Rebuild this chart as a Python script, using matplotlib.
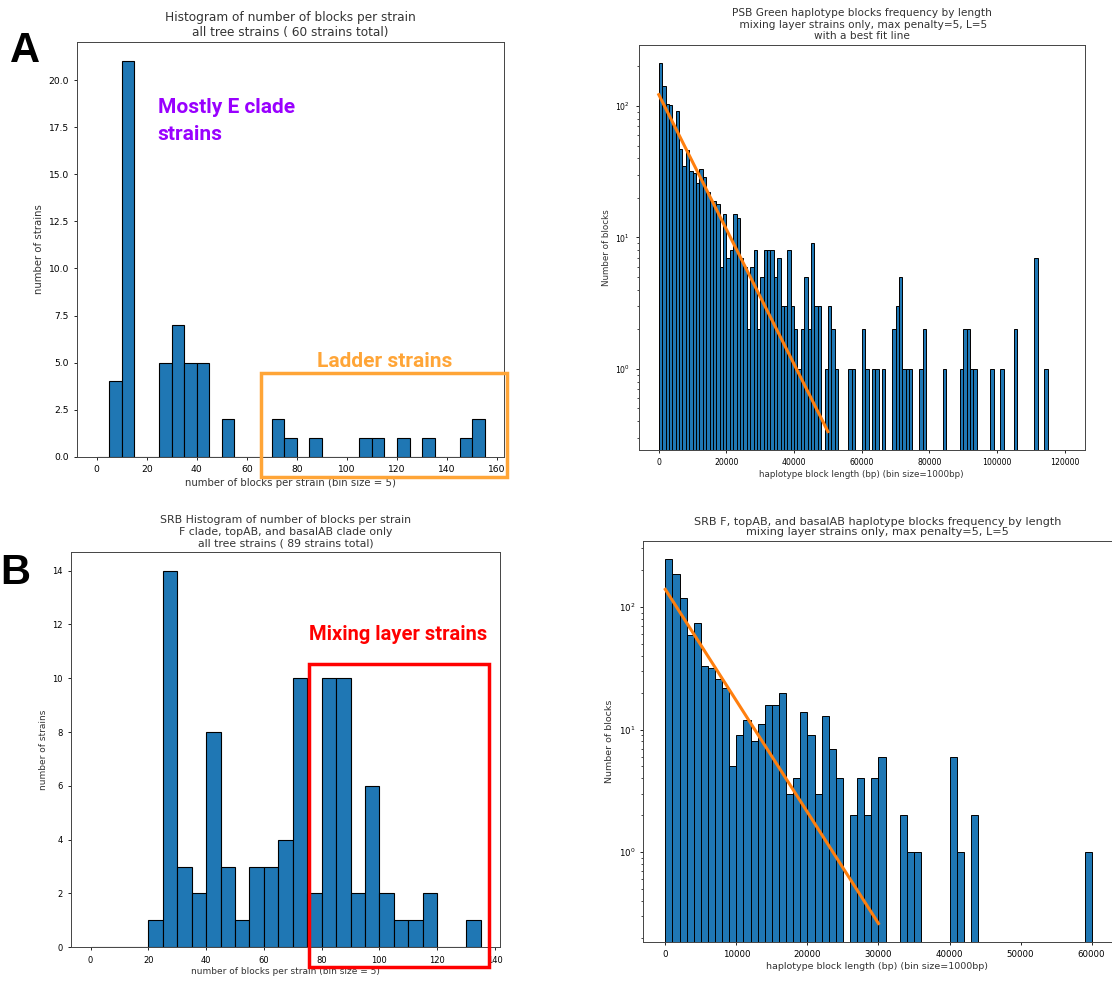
import numpy as np
from matplotlib import pyplot as plt
import matplotlib.patches as patches

# ---- data ----
# panel A: number of blocks per strain, bins of 5 starting at 0
a_edges = list(range(0, 160, 5))
a_counts = [0, 4, 21, 0, 0, 5, 7, 5, 5, 0, 2, 0, 0, 0, 2, 1,
            0, 1, 0, 0, 0, 1, 1, 0, 1, 0, 1, 0, 0, 1, 2]

# panel B: SRB blocks per strain, bins of 5 starting at 0
b_edges = list(range(0, 140, 5))
b_counts = [0, 0, 0, 0, 1, 14, 3, 2, 8, 3, 1, 3, 3, 4, 10, 2,
            10, 10, 2, 6, 2, 1, 1, 2, 0, 0, 1]

# panel C: PSB Green block lengths, bins of 1000 bp
c_edges = list(range(0, 121000, 1000))
c_counts = [211, 142, 103, 101, 70, 91, 47, 35, 46, 32,
            31, 26, 33, 29, 22, 19, 19, 18, 6, 15,
            7, 8, 15, 14, 7, 6, 2, 6, 8, 2,
            5, 8, 8, 8, 5, 7, 3, 3, 8, 3,
            2, 1, 2, 5, 2, 9, 3, 3, 0, 1,
            3, 2, 1, 0, 0, 0, 1, 1, 0, 0,
            2, 1, 0, 1, 1, 0, 1, 0, 0, 2,
            3, 5, 1, 1, 1, 0, 0, 1, 2, 0,
            0, 0, 0, 0, 1, 0, 0, 0, 0, 1,
            2, 2, 1, 1, 0, 0, 0, 0, 1, 0,
            0, 1, 0, 0, 0, 2, 0, 0, 0, 0,
            0, 7, 0, 0, 1, 0, 0, 0, 0, 0]
c_fit_x = [0, 50000]
c_fit_y = [122, 0.333]

# panel D: SRB F/topAB/basalAB block lengths, bins of 1000 bp
d_edges = list(range(0, 63000, 1000))
d_counts = [245, 187, 118, 59, 74, 33, 32, 26, 22, 5,
            9, 12, 8, 11, 16, 16, 20, 3, 4, 14,
            9, 3, 13, 7, 4, 0, 2, 4, 2, 4,
            6, 0, 0, 2, 1, 1, 0, 0, 0, 0,
            6, 1, 0, 2, 0, 0, 0, 0, 0, 0,
            0, 0, 0, 0, 0, 0, 0, 0, 0, 1,
            0, 0]
d_fit_x = [0, 30000]
d_fit_y = [139, 0.262]

W, H = 1112, 982
fig = plt.figure(figsize=(W / 100, H / 100), dpi=100)


def px_axes(x0, y0, x1, y1):
    # axes box given in pixels, origin top-left
    return fig.add_axes([x0 / W, 1 - y1 / H, (x1 - x0) / W, (y1 - y0) / H])


def px(x, y):
    return x / W, 1 - y / H


def hist_panel(ax, edges, counts, fs, tfs):
    edges = np.array(edges)
    width = edges[1] - edges[0]
    ax.bar(edges[:-1], counts, width=width, align='edge',
           color='#1f77b4', edgecolor='black', linewidth=0.8)
    span = edges[-1] - edges[0]
    ax.set_xlim(edges[0] - 0.05 * span, edges[-1] + 0.05 * span)
    ax.set_ylim(0, max(counts) * 1.05)
    ax.tick_params(labelsize=tfs, length=2.5, width=0.6)
    for s in ax.spines.values():
        s.set_linewidth(0.7)
        s.set_color('#444444')


def log_panel(ax, edges, counts, fit_x, fit_y, xlim, fs, tfs):
    edges = np.array(edges)
    counts = np.array(counts)
    left = edges[:len(counts)]
    keep = counts > 0
    ax.set_yscale('log')
    ax.bar(left[keep], counts[keep], width=edges[1] - edges[0], align='edge',
           color='#1f77b4', edgecolor='black', linewidth=0.7)
    ax.plot(fit_x, fit_y, color='#ff7f0e', lw=2.2)
    lo, hi = np.log10(min(fit_y)), np.log10(counts.max())
    m = 0.05 * (hi - lo)
    ax.set_ylim(10 ** (lo - m), 10 ** (hi + m))
    ax.set_xlim(*xlim)
    ax.tick_params(labelsize=tfs, length=2.5, width=0.6)
    ax.tick_params(which='minor', length=1.5, width=0.5)
    for s in ax.spines.values():
        s.set_linewidth(0.7)
        s.set_color('#444444')


# ---- A ----
axA = px_axes(77.3, 41.7, 504, 456.7)
hist_panel(axA, a_edges, a_counts, 7.3, 6.6)
axA.set_title('Histogram of number of blocks per strain\nall tree strains ( 60 strains total)',
              fontsize=8.7, pad=4, color='#333333')
axA.set_xlabel('number of blocks per strain (bin size = 5)', fontsize=7.3, labelpad=3, color='#333333')
axA.set_ylabel('number of strains', fontsize=7.3, labelpad=3, color='#333333')

# ---- B ----
axB = px_axes(71, 551.7, 500, 947.3)
hist_panel(axB, b_edges, b_counts, 6.5, 6.0)
axB.set_title('SRB Histogram of number of blocks per strain\nF clade, topAB, and basalAB clade only\n'
              'all tree strains ( 89 strains total)', fontsize=7.8, pad=4, color='#333333')
axB.set_xlabel('number of blocks per strain (bin size = 5)', fontsize=6.5, labelpad=2, color='#333333')
axB.set_ylabel('number of strains', fontsize=6.5, labelpad=3, color='#333333')

# ---- C ----
axC = px_axes(638.5, 45, 1085, 450)
log_panel(axC, c_edges, c_counts, c_fit_x, c_fit_y, (-6000, 126000), 6.3, 5.6)
axC.set_title('PSB Green haplotype blocks frequency by length\n mixing layer strains only, max penalty=5, L=5\n'
              'with a best fit line', fontsize=7.6, pad=4, color='#333333')
axC.set_xlabel('haplotype block length (bp) (bin size=1000bp)', fontsize=6.3, labelpad=2, color='#333333')
axC.set_ylabel('Number of blocks', fontsize=6.3, labelpad=3, color='#333333')

# ---- D ----
axD = px_axes(643.3, 541, 1111.5, 941.7)
log_panel(axD, d_edges, d_counts, d_fit_x, d_fit_y, (-3100, 62800), 6.8, 6.2)
axD.set_title('SRB F, topAB, and basalAB haplotype blocks frequency by length\n'
              'mixing layer strains only, max penalty=5, L=5', fontsize=8.1, pad=4,
              linespacing=1.05, color='#333333')
axD.set_xlabel('haplotype block length (bp) (bin size=1000bp)', fontsize=6.8, labelpad=2, color='#333333')
axD.set_ylabel('Number of blocks', fontsize=6.8, labelpad=3, color='#333333')

# ---- annotations ----
bold = dict(family='Roboto', fontweight='bold')
fig.text(*px(157.7, 113), 'Mostly E clade', color='#9900ff', fontsize=15, va='baseline', **bold)
fig.text(*px(157.7, 140), 'strains', color='#9900ff', fontsize=15, va='baseline', **bold)
fig.text(*px(317, 367), 'Ladder strains', color='#ffa537', fontsize=15, va='baseline', **bold)
fig.text(*px(309, 640), 'Mixing layer strains', color='#ff0000', fontsize=14.5, va='baseline', **bold)
fig.text(*px(10, 62), 'A', color='black', fontsize=30, va='baseline', family='Liberation Sans',
         fontweight='bold')
fig.text(*px(0, 584), 'B', color='black', fontsize=30, va='baseline', family='Liberation Sans',
         fontweight='bold')

x0, y0 = px(261, 477.3)
x1, y1 = px(507.3, 373.3)
fig.add_artist(patches.Rectangle((x0, y0), x1 - x0, y1 - y0, transform=fig.transFigure,
                                 fill=False, edgecolor='#ffa537', linewidth=2.5))
x0, y0 = px(309.3, 967.3)
x1, y1 = px(489.3, 664)
fig.add_artist(patches.Rectangle((x0, y0), x1 - x0, y1 - y0, transform=fig.transFigure,
                                 fill=False, edgecolor='#ff0000', linewidth=2.5))

fig.savefig('out.png', dpi=100)
